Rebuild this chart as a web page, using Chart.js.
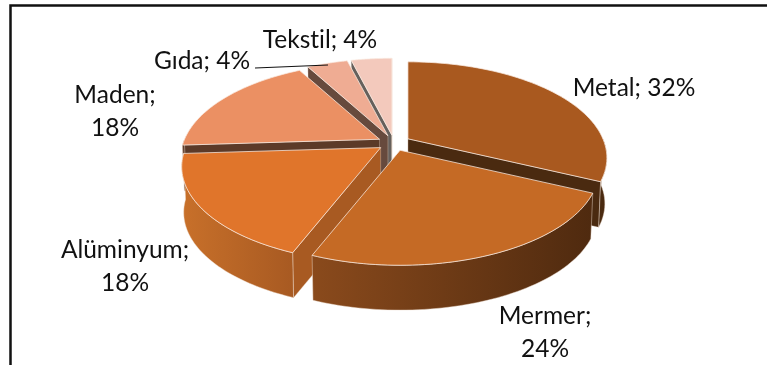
<!DOCTYPE html>
<html>
<head>
<meta charset="utf-8">
<style>
  html, body { margin: 0; padding: 0; background: #fff; }
  canvas { display: block; }
</style>
<script src="https://cdn.jsdelivr.net/npm/chart.js@4"></script>
</head>
<body>
<canvas id="pieChart" width="767" height="365"></canvas>
<script>
  // Chart data
  const categories = ['Metal', 'Mermer', 'Alüminyum', 'Maden', 'Gıda', 'Tekstil'];
  const shares = [32, 24, 18, 18, 4, 4];

  // Slice colours
  const topColors = ['#A9591F', '#C56A25', '#E0752B', '#EB9063', '#EFAC93', '#F3C9BC'];
  const cutColors = ['#4A2A10', '#4A2A10', '#A85A22', '#5C3A28', '#674A3D', '#66605C'];
  const rimLeftColors = ['#4A2A10', '#8A4A1C', '#C8702A', '#5C3A28', '#674A3D', '#66605C'];
  const rimRightColors = ['#4A2A10', '#4F2A0F', '#A85A22', '#5C3A28', '#674A3D', '#66605C'];

  // Label placement: centre x, first baseline y, split onto two lines or not
  const labelX = [634, 545, 125, 115, 202, 320];
  const labelY = [96, 324, 258, 103, 69, 48];
  const labelSplit = [false, true, true, true, false, false];

  // Pie view settings
  const tilt = 0.473;        // how flat the pie looks
  const perspective = 0.198; // back of the pie is smaller than the front
  const thickness = 46;
  const bottomScale = 0.99;
  const drawOrder = [5, 4, 3, 0, 2, 1]; // back to front

  function slicePoint(arc, angle, lower) {
    const R = arc.outerRadius;
    const mid = (arc.startAngle + arc.endAngle) / 2 + Math.PI / 2;
    const ax = arc.x + arc.options.offset * Math.sin(mid);
    const ay = arc.y - arc.options.offset * tilt * Math.cos(mid);
    if (angle === null) {
      return { x: ax, y: ay + (lower ? thickness : 0) };
    }
    const t = angle + Math.PI / 2;
    const w = 1 + perspective * Math.cos(t);
    const s = lower ? bottomScale : 1;
    return {
      x: ax + s * R * Math.sin(t) / w,
      y: ay - s * R * tilt * Math.cos(t) / w + (lower ? thickness : 0)
    };
  }

  function fillShape(ctx, points, fill, edge) {
    ctx.beginPath();
    points.forEach(function(p, i) {
      if (i === 0) ctx.moveTo(p.x, p.y);
      else ctx.lineTo(p.x, p.y);
    });
    ctx.closePath();
    ctx.fillStyle = fill;
    ctx.fill();
    ctx.strokeStyle = edge;
    ctx.lineWidth = 1;
    ctx.stroke();
  }

  function rimPoints(arc, lower, frontOnly) {
    const steps = 60;
    const pts = [];
    for (let i = 0; i <= steps; i++) {
      const a = arc.startAngle + (arc.endAngle - arc.startAngle) * i / steps;
      // the back half of the outer wall is hidden behind the top face
      if (frontOnly && Math.cos(a + Math.PI / 2) > 0) continue;
      pts.push(slicePoint(arc, a, lower));
    }
    return pts;
  }

  // a cut face shows only when the slice lies above its edge on screen
  function cutFaceShows(arc, a) {
    const apex = slicePoint(arc, null, false);
    const rim = slicePoint(arc, a, false);
    const midRim = slicePoint(arc, (arc.startAngle + arc.endAngle) / 2, false);
    const vx = rim.x - apex.x, vy = rim.y - apex.y;
    const side = vx * (midRim.y - apex.y) - vy * (midRim.x - apex.x);
    return vx * side < 0;
  }

  const pie3d = {
    id: 'pie3d',
    beforeDatasetsDraw(chart) {
      const ctx = chart.ctx;
      const arcs = chart.getDatasetMeta(0).data;
      ctx.save();
      ctx.lineJoin = 'round';
      drawOrder.forEach(function(i) {
        const arc = arcs[i];
        const top = rimPoints(arc, false, false);

        // cut faces from the apex out to the rim
        [arc.startAngle, arc.endAngle].forEach(function(a) {
          if (!cutFaceShows(arc, a)) return;
          fillShape(ctx, [
            slicePoint(arc, null, false), slicePoint(arc, a, false),
            slicePoint(arc, a, true), slicePoint(arc, null, true)
          ], cutColors[i], 'rgba(235,215,200,0.35)');
        });

        // outer wall
        const wallTop = rimPoints(arc, false, true);
        const wallBottom = rimPoints(arc, true, true);
        if (wallTop.length > 1) {
          const xs = wallTop.map(function(p) { return p.x; });
          const grad = ctx.createLinearGradient(Math.min.apply(null, xs), 0, Math.max.apply(null, xs), 0);
          grad.addColorStop(0, rimLeftColors[i]);
          grad.addColorStop(1, rimRightColors[i]);
          fillShape(ctx, wallTop.concat(wallBottom.reverse()), grad, 'rgba(240,225,210,0.45)');
        }

        // top face
        fillShape(ctx, [slicePoint(arc, null, false)].concat(top), arc.options.backgroundColor, 'rgba(250,235,225,0.75)');
      });
      ctx.restore();
      return false;
    },
    afterDraw(chart) {
      const ctx = chart.ctx;
      ctx.save();

      // frame, open at the bottom and on the right
      ctx.strokeStyle = '#111';
      ctx.lineWidth = 2.5;
      ctx.beginPath();
      ctx.moveTo(10.5, 365);
      ctx.lineTo(10.5, 5.5);
      ctx.lineTo(767, 5.5);
      ctx.stroke();

      // leader line for Gıda
      ctx.lineWidth = 1.2;
      ctx.beginPath();
      ctx.moveTo(255, 68);
      ctx.lineTo(328, 65);
      ctx.stroke();

      // data labels
      ctx.fillStyle = '#111';
      ctx.font = '24.5px Lato';
      ctx.textAlign = 'center';
      ctx.textRendering = 'optimizeSpeed'; // no "ti" ligature in Tekstil
      categories.forEach(function(name, i) {
        if (labelSplit[i]) {
          ctx.fillText(name + ';', labelX[i], labelY[i]);
          ctx.fillText(shares[i] + '%', labelX[i], labelY[i] + 33);
        } else {
          ctx.fillText(name + '; ' + shares[i] + '%', labelX[i], labelY[i]);
        }
      });
      ctx.restore();
    }
  };

  new Chart(document.getElementById('pieChart').getContext('2d'), {
    type: 'pie',
    data: {
      labels: categories,
      datasets: [{
        data: shares,
        backgroundColor: topColors,
        offset: 16.5,
        borderWidth: 0
      }]
    },
    options: {
      responsive: false,
      animation: false,
      radius: 195,
      layout: { padding: { left: 21, bottom: 79 } },
      plugins: {
        legend: { display: false },
        tooltip: { enabled: false }
      }
    },
    plugins: [pie3d]
  });
</script>
</body>
</html>
